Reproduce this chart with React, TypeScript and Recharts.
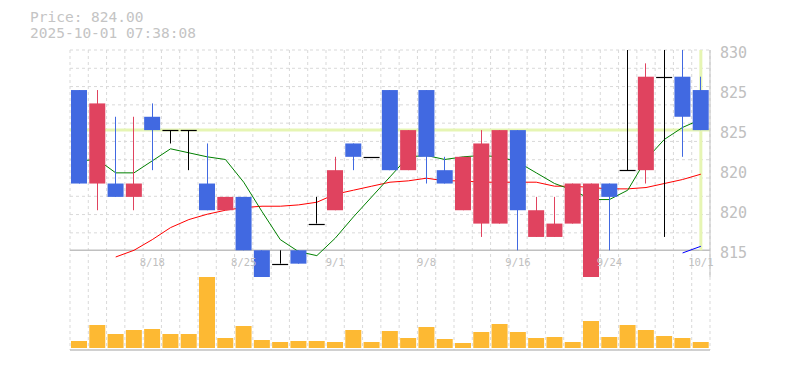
import { ComposedChart, Bar, Line, XAxis, YAxis, CartesianGrid, ReferenceLine } from "recharts"

const dates = [
  "8/12", "8/13", "8/14", "8/15",
  "8/18", "8/19", "8/20", "8/21", "8/22",
  "8/25", "8/26", "8/27", "8/28", "8/29",
  "9/1", "9/2", "9/3", "9/4", "9/5",
  "9/8", "9/9", "9/10", "9/11", "9/12",
  "9/16", "9/17", "9/18", "9/19", "9/22",
  "9/24", "9/25", "9/26", "9/29", "9/30",
  "10/1"
]

const opens = [827, 820, 820, 819, 825, 824, 824, 820, 818, 819, 815, 814, 815, 817, 818, 823, 822, 827, 821, 827, 821, 818, 817, 817, 824, 816, 816, 817, 813, 820, 821, 821, 828, 828, 827]
const highs = [827, 827, 825, 825, 826, 824, 824, 823, 819, 819, 815, 815, 815, 819, 822, 823, 822, 827, 824, 827, 822, 822, 824, 824, 824, 819, 819, 820, 820, 820, 832, 829, 832, 831, 828]
const lows = [820, 818, 819, 818, 821, 823, 821, 818, 818, 815, 813, 814, 814, 817, 818, 821, 822, 821, 821, 820, 820, 818, 816, 817, 815, 816, 816, 817, 813, 815, 821, 820, 816, 822, 824]
const closes = [820, 826, 819, 820, 824, 824, 824, 818, 819, 815, 813, 814, 814, 817, 821, 822, 822, 821, 824, 822, 820, 822, 823, 824, 818, 818, 817, 820, 820, 819, 821, 828, 828, 825, 824]

// moving averages
const ma5 = [821.7, 821.8, 820.8, 820.8, 821.7, 822.6, 822.3, 822.0, 821.8, 820.1, 817.9, 815.8, 814.9, 814.6, 815.9, 817.5, 819.0, 820.5, 822.0, 822.1, 821.8, 822.0, 822.1, 822.0, 821.6, 820.8, 820.0, 819.5, 818.8, 818.8, 819.5, 821.8, 823.3, 824.2, 824.8]
const ma25 = [null, null, 814.5, 815.0, 815.8, 816.7, 817.3, 817.7, 818.0, 818.2, 818.3, 818.3, 818.4, 818.6, 819.2, 819.5, 819.8, 820.1, 820.2, 820.4, 820.2, 820.2, 820.1, 820.1, 820.1, 820.1, 819.8, 819.8, 819.7, 819.6, 819.6, 819.7, 820.0, 820.3, 820.7]
const ma75 = [null, null, null, null, null, null, null, null, null, null, null, null, null, null, null, null, null, null, null, null, null, null, null, null, null, null, null, null, null, null, null, null, null, 814.8, 815.3]

const volumes = [700, 2300, 1400, 1800, 1900, 1400, 1400, 7100, 1000, 2200, 800, 600, 700, 700, 600, 1800, 600, 1700, 1000, 2100, 900, 500, 1600, 2400, 1600, 1000, 1100, 600, 2700, 1100, 2300, 1800, 1200, 1000, 600]

const dateTicks = ["8/18", "8/25", "9/1", "9/8", "9/16", "9/24", "10/1"]
const priceTicks = [815, 818, 821, 824, 827, 830]
const lastPrice = 824

const BLUE = "#4169e1"
const RED = "#e0435f"
const GRID = "#d9d9d9"
const AXIS = "#c0c0c0"
const MARK = "#e6f5b3"
const FONT = "'DejaVu Sans Mono', monospace"

const rows = dates.map((date, i) => ({
  date,
  open: opens[i],
  high: highs[i],
  low: lows[i],
  close: closes[i],
  ma5: ma5[i],
  ma25: ma25[i],
  ma75: ma75[i],
  volume: volumes[i],
}))

const Candle = (props: any) => {
  const { x, y, width, height, payload } = props
  const { open, close, high, low } = payload
  const unit = high > low ? height / (high - low) : 0
  const py = (v: number) => y + (high - v) * unit
  const cx = Math.round(x + width / 2 - 0.5) + 0.5
  const color = close > open ? RED : close < open ? BLUE : "#000"
  const top = py(Math.max(open, close))
  const bottom = py(Math.min(open, close))
  return (
    <g>
      <line x1={cx} x2={cx} y1={y} y2={y + height} stroke={color} strokeWidth={1} />
      {open === close ? (
        <line x1={x} x2={x + width} y1={Math.round(top) + 0.5} y2={Math.round(top) + 0.5} stroke={color} strokeWidth={1.2} />
      ) : (
        <rect x={x} y={top} width={width} height={bottom - top} fill={color} />
      )}
    </g>
  )
}

const DateTick = ({ x, y, payload }: any) => (
  <text x={x} y={y - 11} textAnchor="middle" fill={AXIS} fontSize={10.5} fontFamily={FONT}>
    {payload.value}
  </text>
)

const PriceTick = ({ x, y, payload }: any) => (
  <text x={x} y={y + 8} textAnchor="start" fill={AXIS} fontSize={15} fontFamily={FONT}>
    {Math.round(payload.value / 5) * 5}
  </text>
)

// square grid: cell side = one category band
const bandLines = ({ offset }: any) =>
  Array.from({ length: dates.length + 1 }, (_, k) => offset.left + (k * offset.width) / dates.length)
const rowLines = ({ offset }: any) =>
  Array.from({ length: 11 }, (_, k) => offset.top + (k * offset.width) / dates.length)

export default function App() {
  return (
    <div style={{ position: "absolute", left: 0, top: 0, width: 785, height: 370, background: "#fff" }}>
      <div
        style={{
          position: "absolute",
          left: 30,
          top: 10,
          fontFamily: FONT,
          fontSize: 14.5,
          lineHeight: "15.5px",
          color: "#c4c4c4",
        }}
      >
        <div>Price: 824.00</div>
        <div>2025-10-01 07:38:08</div>
      </div>

      <div style={{ position: "absolute", left: 0, top: 0 }}>
        <ComposedChart width={785} height={278} data={rows} margin={{ top: 50, right: 0, left: 70, bottom: 0 }} barCategoryGap={1}>
          <CartesianGrid
            stroke={GRID}
            strokeDasharray="3 3"
            verticalCoordinatesGenerator={bandLines}
            horizontalCoordinatesGenerator={rowLines}
          />
          <XAxis
            dataKey="date"
            ticks={dateTicks}
            interval={0}
            height={1}
            axisLine={false}
            tickLine={false}
            tickSize={0}
            tickMargin={0}
            tick={<DateTick />}
            zIndex={250}
          />
          <YAxis
            orientation="right"
            width={75}
            domain={[813, 830]}
            allowDataOverflow
            ticks={priceTicks}
            interval={0}
            tickLine={false}
            tickMargin={4}
            axisLine={{ stroke: AXIS }}
            tick={<PriceTick />}
          />
          <ReferenceLine y={815} stroke={AXIS} strokeWidth={1.5} zIndex={-50} />
          <ReferenceLine y={lastPrice} stroke={MARK} strokeWidth={3} zIndex={-50} />
          <ReferenceLine
            segment={[{ x: "10/1", y: 815 }, { x: "10/1", y: 830 }]}
            stroke={MARK}
            strokeWidth={3}
            zIndex={-50}
          />
          <Line dataKey="ma75" stroke="#0000ff" strokeWidth={1} dot={false} isAnimationActive={false} zIndex={250} />
          <Line dataKey="ma25" stroke="#ff0000" strokeWidth={1} dot={false} isAnimationActive={false} zIndex={250} />
          <Line dataKey="ma5" stroke="#008000" strokeWidth={1} dot={false} isAnimationActive={false} zIndex={250} />
          <Bar dataKey={(d: any) => [d.low, d.high]} shape={<Candle />} isAnimationActive={false} />
        </ComposedChart>
      </div>

      <div style={{ position: "absolute", left: 0, top: 277 }}>
        <ComposedChart width={785} height={74} data={rows} margin={{ top: 0, right: 75, left: 70, bottom: 0 }} barCategoryGap={1}>
          <CartesianGrid stroke={GRID} strokeDasharray="3 3" horizontal={false} verticalCoordinatesGenerator={bandLines} />
          <XAxis dataKey="date" height={1} tick={false} tickLine={false} axisLine={{ stroke: AXIS, strokeWidth: 1.5 }} />
          <YAxis hide domain={[-200, 7100]} />
          <Bar dataKey="volume" fill="#fdb933" isAnimationActive={false} />
        </ComposedChart>
      </div>
    </div>
  )
}
